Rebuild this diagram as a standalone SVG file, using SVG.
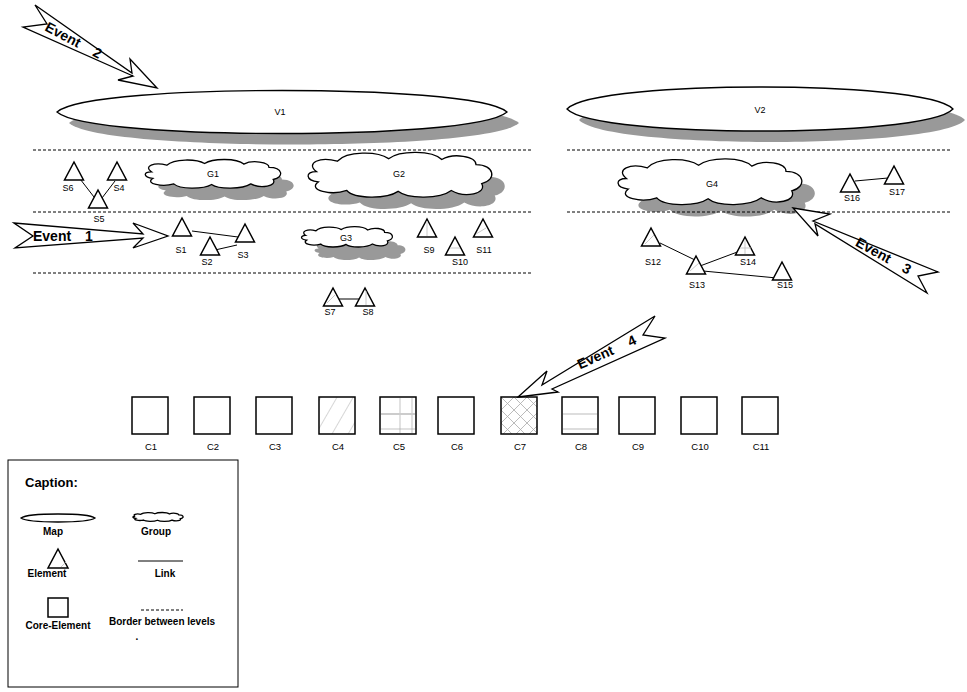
<svg xmlns="http://www.w3.org/2000/svg" xmlns:xlink="http://www.w3.org/1999/xlink" width="967" height="692" viewBox="0 0 967 692">
<style>
text{font-family:"Liberation Sans",Arial,sans-serif;fill:#000}
.lbl{font-size:9px;text-anchor:middle}
.clbl{font-size:9.5px;text-anchor:middle}
.ev{font-size:14px;font-weight:bold}
.cap{font-size:10px;font-weight:bold;text-anchor:middle}
.shape{fill:#fff;stroke:#000;stroke-width:1.3}
.shadow{fill:#999;stroke:none}
.tri{fill:#fff;stroke:#000;stroke-width:1.5;stroke-linejoin:miter}
.hatch{stroke:#bbb;stroke-width:0.8;fill:none}
.link{stroke:#000;stroke-width:1;fill:none}
.border{stroke:#000;stroke-width:1;stroke-dasharray:3,2;fill:none}
.core{stroke:#000;stroke-width:1.5}
.arrow{fill:#fff;stroke:#000;stroke-width:1.3;stroke-linejoin:miter}
</style>
<defs>
<path id="cloud" vector-effect="non-scaling-stroke" d="M-88,-4 C-100,-14 -84,-22 -66,-16 C-56,-28 -24,-28 -12,-19 C0,-29 34,-29 44,-18 C56,-26 80,-22 80,-12 C100,-12 102,6 86,10 C92,22 68,27 54,18 C42,28 8,28 -2,19 C-14,28 -48,28 -56,18 C-72,24 -98,18 -86,8 C-100,6 -100,-4 -88,-4 Z"/>
<pattern id="diag" patternUnits="userSpaceOnUse" width="14" height="14" patternTransform="rotate(30)">
<line x1="0" y1="0" x2="0" y2="14" stroke="#999" stroke-width="0.8"/>
</pattern>
<pattern id="cross" patternUnits="userSpaceOnUse" width="13" height="13" x="501" y="397">
<path d="M0,0 L13,13 M13,0 L0,13" stroke="#aaa" stroke-width="0.8"/>
</pattern>
</defs>

<!-- shadows -->
<g id="shadows">
<path class="shadow" transform="translate(12,11)" d="M57,112 C75,96 190,90.5 282,90.5 C374,90.5 489,96 507,112 C489,128 374,133.5 282,133.5 C190,133.5 75,128 57,112 Z"/>
<path class="shadow" transform="translate(12,11)" d="M567,109 C582,93 681,87 760,87 C839,87 938,93 953,109 C938,125 839,131 760,131 C681,131 582,125 567,109 Z"/>
<use href="#cloud" class="shadow" transform="translate(226,186) scale(0.70,0.55)"/>
<use href="#cloud" class="shadow" transform="translate(413,187) scale(0.95,0.86)"/>
<use href="#cloud" class="shadow" transform="translate(360,250) scale(0.47,0.39)"/>
<use href="#cloud" class="shadow" transform="translate(723,194) scale(0.95,0.88)"/>
</g>

<!-- level borders -->
<g id="borders">
<line class="border" x1="33" y1="150" x2="532" y2="150"/>
<line class="border" x1="33" y1="212" x2="532" y2="212"/>
<line class="border" x1="33" y1="273" x2="532" y2="273"/>
<line class="border" x1="567" y1="150" x2="950" y2="150"/>
<line class="border" x1="567" y1="212" x2="950" y2="212"/>
</g>

<g id="V1">
<path class="shape" d="M57,112 C75,96 190,90.5 282,90.5 C374,90.5 489,96 507,112 C489,128 374,133.5 282,133.5 C190,133.5 75,128 57,112 Z"/>
<text class="lbl" x="280" y="115">V1</text>
</g>
<g id="V2">
<path class="shape" d="M567,109 C582,93 681,87 760,87 C839,87 938,93 953,109 C938,125 839,131 760,131 C681,131 582,125 567,109 Z"/>
<text class="lbl" x="760" y="113">V2</text>
</g>

<g id="G1">
<use href="#cloud" class="shape" transform="translate(213,174) scale(0.70,0.55)"/>
<text class="lbl" x="213" y="177">G1</text>
</g>
<g id="G2">
<use href="#cloud" class="shape" transform="translate(400,175) scale(0.95,0.86)"/>
<text class="lbl" x="399" y="177">G2</text>
</g>
<g id="G3">
<use href="#cloud" class="shape" transform="translate(347,237) scale(0.47,0.39)"/>
<text class="lbl" x="346" y="241">G3</text>
</g>
<g id="G4">
<use href="#cloud" class="shape" transform="translate(710,182) scale(0.95,0.88)"/>
<text class="lbl" x="712" y="187">G4</text>
</g>

<!-- links -->
<g id="links">
<line class="link" x1="77" y1="175" x2="94" y2="197"/>
<line class="link" x1="115" y1="181" x2="102" y2="198"/>
<line class="link" x1="192" y1="231" x2="238" y2="237"/>
<line class="link" x1="215" y1="250" x2="237" y2="245"/>
<line class="link" x1="332" y1="299" x2="362" y2="299" stroke-width="1.4"/>
<line class="link" x1="660" y1="243" x2="695" y2="260"/>
<line class="link" x1="700" y1="266" x2="740" y2="251"/>
<line class="link" x1="703" y1="271" x2="777" y2="278"/>
<line class="link" x1="855" y1="181" x2="888" y2="178"/>
</g>

<!-- elements -->
<g id="S6"><polygon class="tri" points="74,162 64.5,180 83.5,180"/><text class="lbl" x="68" y="191">S6</text></g>
<g id="S4"><polygon class="tri" points="117,162 107.5,180 126.5,180"/><text class="lbl" x="119" y="191">S4</text></g>
<g id="S5"><polygon class="tri" points="98,190 88.5,208 107.5,208"/><text class="lbl" x="99" y="222">S5</text></g>
<g id="S1"><polygon class="tri" points="182,218 172.5,236 191.5,236"/><text class="lbl" x="181" y="253">S1</text></g>
<g id="S2"><polygon class="tri" points="210,237 200.5,255 219.5,255"/><text class="lbl" x="207" y="265">S2</text></g>
<g id="S3"><polygon class="tri" points="245,224 235.5,242 254.5,242"/><text class="lbl" x="243" y="258">S3</text></g>
<g id="S9"><polygon class="tri" points="427,219 417.5,237 436.5,237"/><line class="hatch" x1="427" y1="221" x2="427" y2="236"/><text class="lbl" x="429" y="253">S9</text></g>
<g id="S10"><polygon class="tri" points="455,237 445.5,255 464.5,255"/><line class="hatch" x1="450" y1="248" x2="460" y2="248"/><text class="lbl" x="460" y="265">S10</text></g>
<g id="S11"><polygon class="tri" points="483,219 473.5,237 492.5,237"/><line class="hatch" x1="476" y1="234" x2="486" y2="228"/><text class="lbl" x="484" y="253">S11</text></g>
<g id="S7"><polygon class="tri" points="333,288 323.5,306 342.5,306"/><line class="hatch" x1="327" y1="303" x2="336" y2="294"/><text class="lbl" x="330" y="315">S7</text></g>
<g id="S8"><polygon class="tri" points="365,288 355.5,306 374.5,306"/><line class="hatch" x1="366" y1="291" x2="366" y2="305"/><text class="lbl" x="368" y="315">S8</text></g>
<g id="S12"><polygon class="tri" points="651,228 641.5,246 660.5,246"/><line class="hatch" x1="645" y1="244" x2="654" y2="235"/><text class="lbl" x="653" y="265">S12</text></g>
<g id="S13"><polygon class="tri" points="696,256 686.5,274 705.5,274"/><line class="hatch" x1="690" y1="271" x2="699" y2="263"/><text class="lbl" x="697" y="288">S13</text></g>
<g id="S14"><polygon class="tri" points="745,237 735.5,255 754.5,255"/><line class="hatch" x1="745" y1="240" x2="745" y2="254"/><line class="hatch" x1="740" y1="248" x2="751" y2="248"/><text class="lbl" x="748" y="265">S14</text></g>
<g id="S15"><polygon class="tri" points="782,262 772.5,280 791.5,280"/><text class="lbl" x="785" y="288">S15</text></g>
<g id="S16"><polygon class="tri" points="850,174 840.5,192 859.5,192"/><text class="lbl" x="852" y="201">S16</text></g>
<g id="S17"><polygon class="tri" points="894,166 884.5,184 903.5,184"/><text class="lbl" x="897" y="195">S17</text></g>

<!-- core elements -->
<g id="C1"><rect class="core" x="132" y="397" width="36" height="37" fill="#fff"/><text class="clbl" x="151" y="450">C1</text></g>
<g id="C2"><rect class="core" x="194" y="397" width="36" height="37" fill="#fff"/><text class="clbl" x="213" y="450">C2</text></g>
<g id="C3"><rect class="core" x="256" y="397" width="36" height="37" fill="#fff"/><text class="clbl" x="275" y="450">C3</text></g>
<g id="C4"><rect class="core" x="319" y="397" width="36" height="37" fill="url(#diag)"/><text class="clbl" x="338" y="450">C4</text></g>
<g id="C5">
<line x1="400" y1="398" x2="400" y2="433" stroke="#aaa" stroke-width="0.7"/>
<line x1="412" y1="398" x2="412" y2="433" stroke="#aaa" stroke-width="0.7"/>
<line x1="381" y1="414" x2="415" y2="414" stroke="#ccc" stroke-width="2"/>
<line x1="381" y1="429" x2="415" y2="429" stroke="#aaa" stroke-width="0.7"/>
<rect x="380" y="397" width="36" height="37" fill="none" class="core"/>
<text class="clbl" x="399" y="450">C5</text></g>
<g id="C6"><rect class="core" x="438" y="397" width="36" height="37" fill="#fff"/><text class="clbl" x="457" y="450">C6</text></g>
<g id="C7"><rect class="core" x="501" y="397" width="36" height="37" fill="url(#cross)"/><text class="clbl" x="520" y="450">C7</text></g>
<g id="C8"><rect class="core" x="562" y="397" width="36" height="37" fill="#fff"/>
<line x1="563" y1="414" x2="597" y2="414" stroke="#aaa" stroke-width="0.8"/>
<line x1="563" y1="429" x2="597" y2="429" stroke="#aaa" stroke-width="0.8"/>
<text class="clbl" x="581" y="450">C8</text></g>
<g id="C9"><rect class="core" x="619" y="397" width="36" height="37" fill="#fff"/><text class="clbl" x="638" y="450">C9</text></g>
<g id="C10"><rect class="core" x="681" y="397" width="36" height="37" fill="#fff"/><text class="clbl" x="700" y="450">C10</text></g>
<g id="C11"><rect class="core" x="742" y="397" width="36" height="37" fill="#fff"/><text class="clbl" x="761" y="450">C11</text></g>

<!-- events -->
<g id="Event1">
<polygon class="arrow" points="14,223 143,234 133,223 168,236 133,248 143,238 15,248 33,236"/>
<text class="ev" x="33" y="241">Event<tspan x="85">1</tspan></text>
</g>
<g id="Event2">
<polygon class="arrow" points="35,5 132,73 130,59 157,88 118,80 133,76 23,27 47,24"/>
<text class="ev" transform="translate(44,30) rotate(28)">Event<tspan x="54">2</tspan></text>
</g>
<g id="Event3">
<polygon class="arrow" points="793,208 830,214 813,221 938,272 918,276 927,293 815,224 818,236"/>
<text class="ev" transform="translate(854.6,245.2) rotate(29)">Event<tspan x="53">3</tspan></text>
</g>
<g id="Event4">
<polygon class="arrow" points="518,397 547,371 542,385 655,316 643,335 665,338 552,389 558,392"/>
<text class="ev" transform="translate(580,369.4) rotate(-24.3)">Event<tspan x="55">4</tspan></text>
</g>

<!-- caption -->
<g id="caption">
<rect x="8" y="460" width="230" height="227" fill="#fff" stroke="#000" stroke-width="1"/>
<text x="25" y="487" style="font-size:13px;font-weight:bold">Caption:</text>
<path class="shape" stroke-width="1" d="M21,518 C26,514.5 45,514 58,514 C71,514 90,514.5 95,518 C90,521.5 71,522 58,522 C45,522 26,521.5 21,518 Z"/>
<text class="cap" x="53" y="535">Map</text>
<use href="#cloud" class="shape" transform="translate(158,517) scale(0.26,0.17)"/>
<text class="cap" x="156" y="535">Group</text>
<polygon class="tri" points="58,549 48,568 68,568"/>
<line class="hatch" x1="61" y1="567" x2="66" y2="562"/>
<text class="cap" x="47" y="577">Element</text>
<line class="link" x1="138" y1="561" x2="183" y2="561"/>
<text class="cap" x="165" y="577">Link</text>
<rect class="core" x="48" y="598" width="20" height="19" fill="#fff"/>
<text class="cap" x="58" y="629">Core-Element</text>
<line class="border" x1="141" y1="610" x2="183" y2="610"/>
<text class="cap" x="162" y="625">Border between levels</text>
<text class="cap" x="137" y="640">.</text>
</g>
</svg>
